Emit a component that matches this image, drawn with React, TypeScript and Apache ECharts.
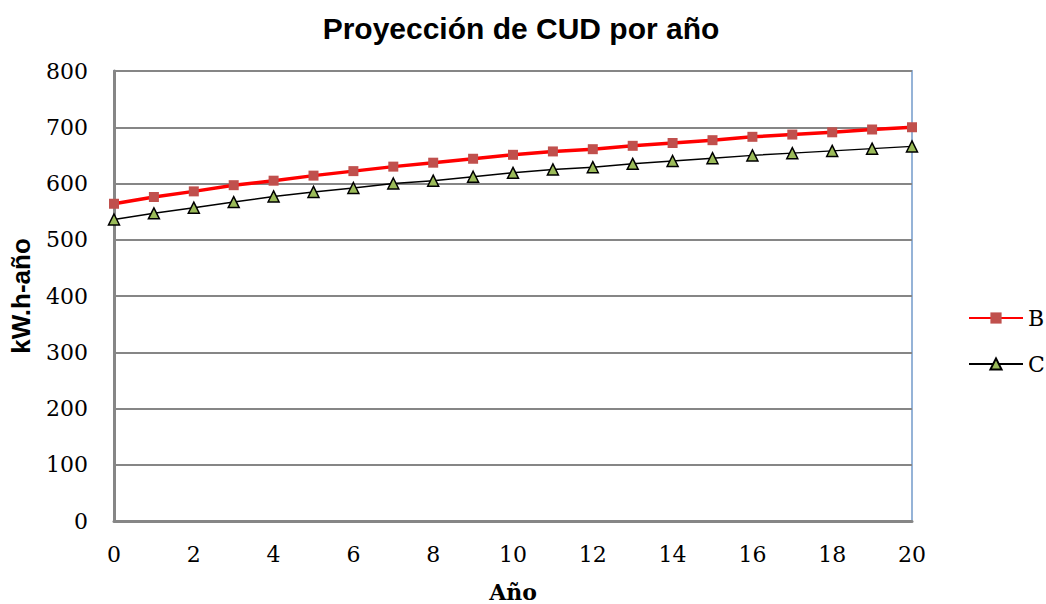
import React, { useEffect, useRef } from "react";
import * as echarts from "echarts";

const years = [0, 1, 2, 3, 4, 5, 6, 7, 8, 9, 10, 11, 12, 13, 14, 15, 16, 17, 18, 19, 20];
const seriesB = [564, 576, 586, 597, 605, 614, 622, 630, 637, 644, 651, 657, 661, 667, 672, 677, 683, 687, 691, 696, 700];
const seriesC = [536, 547, 557, 567, 577, 585, 592, 600, 605, 612, 619, 625, 629, 635, 640, 645, 650, 654, 658, 662, 666];
const yTicks = { min: 0, max: 800, interval: 100 };
const xTicks = { min: 0, max: 20, interval: 2 };

const serif = "'DejaVu Serif', 'Liberation Serif', serif";
const sans = "'Liberation Sans', Arial, sans-serif";

export default function App() {
  const ref = useRef<HTMLDivElement>(null);
  useEffect(() => {
    if (!ref.current) return;
    const chart = echarts.init(ref.current, null, { renderer: "svg" });
    chart.setOption({
      animation: false,
      backgroundColor: "#ffffff",
      title: {
        text: "Proyección de CUD por año",
        left: 516,
        top: 8,
        textAlign: "center",
        textStyle: { fontFamily: sans, fontWeight: "bold", fontSize: 30, color: "#000" },
      },
      grid: {
        left: 114,
        right: 134,
        top: 71,
        bottom: 83,
        outerBoundsMode: "none",
        containLabel: false,
        show: true,
        borderColor: "#95B3D7",
        borderWidth: 2,
        backgroundColor: "transparent",
      },
      legend: {
        orient: "vertical",
        left: 963,
        top: 302,
        itemWidth: 54,
        itemHeight: 14,
        itemGap: 24,
        textStyle: { fontFamily: serif, fontSize: 22, color: "#000" },
        data: ["B", "C"],
      },
      xAxis: {
        type: "value",
        min: xTicks.min,
        max: xTicks.max,
        interval: xTicks.interval,
        name: "Año",
        nameLocation: "middle",
        nameGap: 60,
        nameTextStyle: { fontFamily: serif, fontWeight: "bold", fontSize: 22, color: "#000" },
        axisLine: { show: true, lineStyle: { color: "#868686", width: 3 } },
        axisTick: { show: false },
        splitLine: { show: false },
        axisLabel: { fontFamily: serif, fontSize: 22, color: "#000", margin: 22 },
      },
      yAxis: {
        type: "value",
        min: yTicks.min,
        max: yTicks.max,
        interval: yTicks.interval,
        name: "kW.h-año",
        nameLocation: "middle",
        nameGap: 80,
        nameTextStyle: { fontFamily: sans, fontWeight: "bold", fontSize: 26, color: "#000" },
        axisLine: { show: true, lineStyle: { color: "#868686", width: 3 } },
        axisTick: { show: false },
        splitLine: { show: true, lineStyle: { color: "#868686", width: 2 } },
        axisLabel: { fontFamily: serif, fontSize: 22, color: "#000", margin: 26 },
      },
      series: [
        {
          name: "B",
          type: "line",
          data: years.map((x, i) => [x, seriesB[i]]),
          symbol: "rect",
          symbolSize: 10,
          lineStyle: { color: "#FF0000", width: 3.5 },
          itemStyle: { color: "#C0504D", borderWidth: 0 },
          z: 3,
        },
        {
          name: "C",
          type: "line",
          data: years.map((x, i) => [x, seriesC[i]]),
          symbol: "triangle",
          symbolSize: 11,
          lineStyle: { color: "#000000", width: 1.5 },
          itemStyle: { color: "#9BBB59", borderColor: "#000000", borderWidth: 1.5 },
          z: 2,
        },
      ],
    });
    return () => chart.dispose();
  }, []);
  return (
    <div
      ref={ref}
      style={{ position: "absolute", left: 0, top: 0, width: 1046, height: 604 }}
    />
  );
}
